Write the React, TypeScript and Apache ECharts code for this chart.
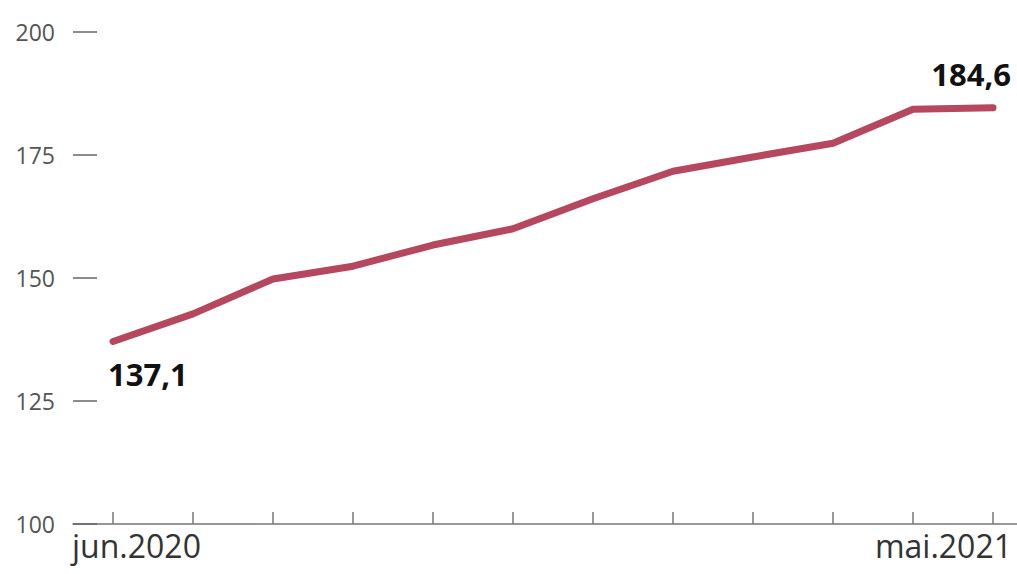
import React, { useEffect, useRef } from "react";
import * as echarts from "echarts";

const months = ["jun.2020", "jul.2020", "aug.2020", "sep.2020", "okt.2020", "nov.2020", "des.2020", "jan.2021", "feb.2021", "mar.2021", "apr.2021", "mai.2021"];
const values = [137.1, 142.7, 149.8, 152.4, 156.7, 160.0, 166.1, 171.7, 174.6, 177.4, 184.3, 184.6];
const yTicks = [100, 125, 150, 175, 200];

const FONT = "'Open Sans', 'Noto Sans', sans-serif";

export default function App() {
  const ref = useRef<HTMLDivElement>(null);
  useEffect(() => {
    if (!ref.current) return;
    const chart = echarts.init(ref.current, undefined, { renderer: "svg" });
    const last = values.length - 1;
    const fmt = (p: any) => String(p.value).replace(".", ",");
    chart.setOption({
      animation: false,
      backgroundColor: "#ffffff",
      grid: { left: 73, top: 32, bottom: 50, right: 0 },
      xAxis: {
        type: "category",
        data: months,
        boundaryGap: true,
        axisLine: { show: true, lineStyle: { color: "#777", width: 1.5 } },
        axisTick: { show: true, alignWithLabel: true, inside: true, length: 12, lineStyle: { color: "#777", width: 1.5 } },
        axisLabel: { show: false },
        splitLine: { show: false },
      },
      yAxis: {
        type: "value",
        min: yTicks[0],
        max: yTicks[yTicks.length - 1],
        interval: 25,
        axisLine: { show: false },
        axisTick: { show: true, inside: true, length: 24, lineStyle: { color: "#666", width: 1.5 } },
        axisLabel: { color: "#555", fontSize: 23, fontFamily: FONT, margin: 18 },
        splitLine: { show: false },
      },
      series: [
        {
          type: "line",
          data: values.map((v, i) => {
            if (i === 0) {
              return {
                value: v,
                label: { show: true, position: "bottom", distance: 16, align: "left", offset: [-5, 0], formatter: fmt },
              };
            }
            if (i === last) {
              return {
                value: v,
                label: { show: true, position: "top", distance: 17, align: "right", offset: [18, 0], formatter: fmt },
              };
            }
            return v;
          }),
          symbol: "circle",
          symbolSize: 2,
          showSymbol: true,
          itemStyle: { color: "rgba(0,0,0,0)", borderWidth: 0 },
          lineStyle: { color: "#b5475f", width: 7, cap: "round", join: "round" },
          label: { color: "#111", fontSize: 31, fontWeight: "bold", fontFamily: FONT },
        },
      ],
      graphic: [
        { type: "text", left: 72, top: 529, style: { text: months[0], fontSize: 32, fontFamily: FONT, fill: "#333" } },
        { type: "text", right: 21, top: 529, style: { text: months[last], fontSize: 32, fontFamily: FONT, fill: "#333" } },
      ],
    });
    return () => chart.dispose();
  }, []);
  return (
    <div style={{ width: 1017, height: 574, position: "absolute", left: 0, top: 0, overflow: "hidden", background: "#fff" }}>
      <div ref={ref} style={{ width: 1033, height: 574 }} />
    </div>
  );
}
